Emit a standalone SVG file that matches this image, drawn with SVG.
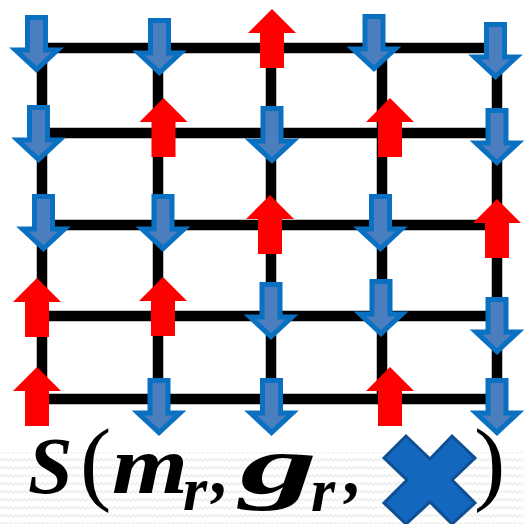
<svg xmlns="http://www.w3.org/2000/svg" width="524" height="524" viewBox="0 0 524 524">
<defs>
<style>
.grid line{stroke:#000;stroke-width:10.5;stroke-linecap:square}
.dn{fill:#4A7EBF;stroke:#0A70C2;stroke-width:5;stroke-linejoin:miter}
.up{fill:#FF0000}
.m{font-family:"Liberation Serif","Times New Roman",serif;font-weight:bold;font-style:italic;fill:#000}
.p{font-family:"Liberation Serif","Times New Roman",serif;font-weight:normal;fill:#000}
</style>
<path id="down" d="M-9,2.5 H9 V35 H21 L0,54.5 L-21,35 H-9 Z"/>
<path id="upa" d="M0,0 L24,24 H12 V59 H-12 V24 H-24 Z"/>
<pattern id="zz" width="9" height="8" patternUnits="userSpaceOnUse">
<path d="M0,5 L2.25,2.5 L4.5,5 L6.75,2.5 L9,5" fill="none" stroke="#eeeeee" stroke-width="1.4"/>
</pattern>
</defs>
<rect width="524" height="524" fill="#fff"/>
<rect x="0" y="452" width="524" height="72" fill="url(#zz)"/>
<g id="connectors" class="grid">
<line x1="42" y1="48" x2="497" y2="48"/>
<line x1="42" y1="133" x2="497" y2="133"/>
<line x1="42" y1="225" x2="497" y2="225"/>
<line x1="42" y1="316" x2="497" y2="316"/>
<line x1="42" y1="399" x2="497" y2="399"/>
<line x1="42" y1="48" x2="42" y2="399"/>
<line x1="158" y1="48" x2="158" y2="399"/>
<line x1="271" y1="48" x2="271" y2="399"/>
<line x1="382" y1="48" x2="382" y2="399"/>
<line x1="497" y1="48" x2="497" y2="399"/>
</g>
<g id="r1c1"><use href="#down" class="dn" transform="translate(36.5,15)"/></g>
<g id="r1c2"><use href="#down" class="dn" transform="translate(159.5,18)"/></g>
<g id="r1c3"><use href="#upa" class="up" transform="translate(272,9)"/></g>
<g id="r1c4"><use href="#down" class="dn" transform="translate(374,14)"/></g>
<g id="r1c5"><use href="#down" class="dn" transform="translate(495.5,22)"/></g>
<g id="r2c1"><use href="#down" class="dn" transform="translate(38.5,105)"/></g>
<g id="r2c2"><use href="#upa" class="up" transform="translate(163.5,98)"/></g>
<g id="r2c3"><use href="#down" class="dn" transform="translate(272,106)"/></g>
<g id="r2c4"><use href="#upa" class="up" transform="translate(390,98)"/></g>
<g id="r2c5"><use href="#down" class="dn" transform="translate(497,108)"/></g>
<g id="r3c1"><use href="#down" class="dn" transform="translate(43.5,194)"/></g>
<g id="r3c2"><use href="#down" class="dn" transform="translate(163,194)"/></g>
<g id="r3c3"><use href="#upa" class="up" transform="translate(270,195)"/></g>
<g id="r3c4"><use href="#down" class="dn" transform="translate(380.5,194)"/></g>
<g id="r3c5"><use href="#upa" class="up" transform="translate(497,199)"/></g>
<g id="r4c1"><use href="#upa" class="up" transform="translate(37,278)"/></g>
<g id="r4c2"><use href="#upa" class="up" transform="translate(163,277)"/></g>
<g id="r4c3"><use href="#down" class="dn" transform="translate(271,282)"/></g>
<g id="r4c4"><use href="#down" class="dn" transform="translate(381,279)"/></g>
<g id="r4c5"><use href="#down" class="dn" transform="translate(497,297)"/></g>
<g id="r5c1"><use href="#upa" class="up" transform="translate(37,367)"/></g>
<g id="r5c2"><use href="#down" class="dn" transform="translate(159,378)"/></g>
<g id="r5c3"><use href="#down" class="dn" transform="translate(271.5,378)"/></g>
<g id="r5c4"><use href="#upa" class="up" transform="translate(390,367)"/></g>
<g id="r5c5"><use href="#down" class="dn" transform="translate(497,378)"/></g>
<g id="formula">
<text class="m" x="28" y="493" font-size="80">S</text>
<text class="p" x="80" y="493" font-size="94">(</text>
<text class="m" x="112" y="493" font-size="82" textLength="76" lengthAdjust="spacingAndGlyphs">m</text>
<text class="m" x="183" y="510" font-size="62">r</text>
<text class="m" x="212" y="493" font-size="70">,</text>
<text class="m" x="240" y="493" font-size="82" textLength="77" lengthAdjust="spacingAndGlyphs">g</text>
<text class="m" x="311" y="511" font-size="62">r</text>
<text class="m" x="345" y="493" font-size="70">,</text>
<text class="p" x="474" y="493" font-size="94">)</text>
<path d="M384,458 L406,436 L430,459 L452,436 L475,458 L452,480 L475,503 L452,524 L430,502 L406,524 L384,503 L407,480 Z" fill="#1467BF" stroke="#0E4F93" stroke-width="3" stroke-linejoin="miter"/>
</g>
</svg>
